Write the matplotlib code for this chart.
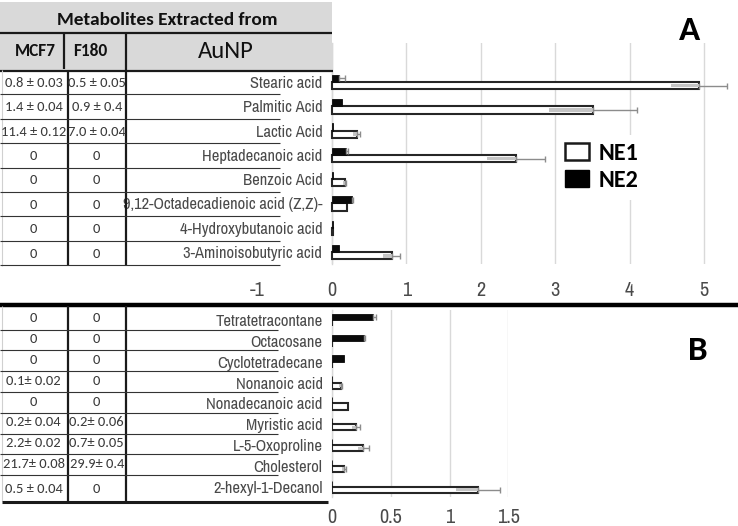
import os
import matplotlib
matplotlib.use('Agg')
import matplotlib.pyplot as plt
import numpy as np
from matplotlib import font_manager as fm
from matplotlib.patches import Rectangle, Patch
from matplotlib.lines import Line2D

plt.rcParams['axes.unicode_minus'] = False

# ---------------- data ----------------
catsA = ["Stearic acid", "Palmitic Acid", "Lactic Acid", "Heptadecanoic acid",
         "Benzoic Acid", "9,12-Octadecadienoic acid (Z,Z)-",
         "4-Hydroxybutanoic acid", "3-Aminoisobutyric acid"]
ne1A = [4.93, 3.51, 0.33, 2.47, 0.17, 0.20, 0.01, 0.80]
ne1A_err = [0.38, 0.59, 0.05, 0.39, 0.02, 0.0, 0.0, 0.12]
ne2A = [0.10, 0.13, 0.01, 0.19, 0.01, 0.27, 0.01, 0.10]
ne2A_err = [0.08, 0.0, 0.0, 0.03, 0.0, 0.01, 0.0, 0.0]
mcf7A = ["0.8 ± 0.03", "1.4 ± 0.04", "11.4 ± 0.12", "0", "0", "0", "0", "0"]
f180A = ["0.5 ± 0.05", "0.9 ± 0.4", "7.0 ± 0.04", "0", "0", "0", "0", "0"]
ticksA = [-1, 0, 1, 2, 3, 4, 5]
tickA_labels = ["-1", "0", "1", "2", "3", "4", "5"]

catsB = ["Tetratetracontane", "Octacosane", "Cyclotetradecane", "Nonanoic acid",
         "Nonadecanoic acid", "Myristic acid", "L-5-Oxoproline", "Cholesterol",
         "2-hexyl-1-Decanol"]
ne1B = [0, 0, 0, 0.07, 0.135, 0.20, 0.265, 0.10, 1.24]
ne1B_err = [0, 0, 0, 0.01, 0.0, 0.035, 0.045, 0.015, 0.19]
ne2B = [0.345, 0.27, 0.10, 0, 0, 0, 0, 0, 0]
ne2B_err = [0.03, 0.005, 0, 0, 0, 0, 0, 0, 0]
mcf7B = ["0", "0", "0", "0.1± 0.02", "0", "0.2± 0.04", "2.2± 0.02", "21.7± 0.08", "0.5 ± 0.04"]
f180B = ["0", "0", "0", "0", "0", "0.2± 0.06", "0.7± 0.05", "29.9± 0.4", "0"]
ticksB = [0, 0.5, 1, 1.5]
tickB_labels = ["0", "0.5", "1", "1.5"]

series_names = ["NE1", "NE2"]
header_title = "Metabolites Extracted from"
header_cols = ["MCF7", "F180", "AuNP"]

# ---------------- fonts ----------------
_files = {os.path.basename(f.fname): f.fname for f in fm.fontManager.ttflist}
_names = {f.name for f in fm.fontManager.ttflist}


def pick_font(filenames, names, weight='normal'):
    for fn in filenames:
        if fn in _files:
            return fm.FontProperties(fname=_files[fn])
    for n in names:
        if n in _names:
            return fm.FontProperties(family=n, weight=weight)
    return fm.FontProperties(family='DejaVu Sans', weight=weight)


FP_NARROW = pick_font(['LiberationSansNarrow-Regular.ttf', 'ArialNarrow.ttf', 'arialn.ttf'],
                      ['Liberation Sans Narrow', 'Arial Narrow', 'Archivo Narrow', 'PT Sans Narrow',
                       'Roboto Condensed', 'Open Sans Condensed', 'IBM Plex Sans Condensed',
                       'Fira Sans Condensed', 'Liberation Sans'])
FP_CAL = pick_font(['Carlito-Regular.ttf'], ['Carlito', 'Lato'])
FP_CAL_B = pick_font(['Carlito-Bold.ttf'], ['Carlito', 'Lato'], weight='bold')

# ---------------- layout helpers ----------------
W, H = 738, 526
fig = plt.figure(figsize=(W / 100, H / 100), dpi=100)
fig.patch.set_facecolor('white')
_renderer = fig.canvas.get_renderer()


def fx(x):
    return x / W


def fy(y):
    return 1 - y / H


def sized(fp, size):
    p = fp.copy()
    p.set_size(size)
    return p


def fit(fp, text, target_px):
    t = fig.text(0, 0, text, fontproperties=sized(fp, 10))
    w = t.get_window_extent(renderer=_renderer).width
    t.remove()
    return sized(fp, 10 * target_px / w)


GRAY_TXT = '#4a4a4a'
VAL_TXT = '#3a3a3a'

fp_cat = fit(FP_NARROW, "9,12-Octadecadienoic acid (Z,Z)-", 200)
fp_tick = sized(FP_NARROW, fp_cat.get_size() * 1.22)
fp_val = fit(FP_CAL, "0.8 ± 0.03", 58)
fp_title = fit(FP_CAL_B, header_title, 221)
fp_col = fit(FP_CAL_B, header_cols[0], 41)
fp_aunp = fit(FP_CAL, header_cols[2], 56)
fp_leg = fit(FP_CAL_B, series_names[0], 40)
fp_letter = sized(FP_CAL_B, fp_leg.get_size() * 1.45)


def hline(x0, x1, y, lw, color='#1a1a1a'):
    fig.add_artist(Line2D([fx(x0), fx(x1)], [fy(y), fy(y)], transform=fig.transFigure,
                          lw=lw, color=color, solid_capstyle='butt'))


def vline(x, y0, y1, lw, color='#1a1a1a'):
    fig.add_artist(Line2D([fx(x), fx(x)], [fy(y0), fy(y1)], transform=fig.transFigure,
                          lw=lw, color=color, solid_capstyle='butt'))


def ftext(x, y, s, **kw):
    fig.text(fx(x), fy(y), s, ha='center', va='center', **kw)


def draw_bars(ax, ne1, e1, ne2, e2, h):
    n = len(ne1)
    y = np.arange(n)
    v1 = np.array(ne1, float); e1 = np.array(e1, float)
    v2 = np.array(ne2, float); e2 = np.array(e2, float)
    y1 = y + h / 2
    y2 = y - h / 2
    # NE1: white bars with dark outline
    ax.barh(y1, v1, height=h, color='white', edgecolor='#262626', linewidth=1.5, zorder=3)
    m = e1 > 0
    ax.barh(y1[m], e1[m], left=v1[m] - e1[m], height=h * 0.5, color='#c4c4c4',
            linewidth=0, zorder=4)
    ax.errorbar(v1[m], y1[m], xerr=[np.zeros(m.sum()), e1[m]], fmt='none',
                ecolor='#8c8c8c', elinewidth=1, capsize=2.5, capthick=1, zorder=4)
    # NE2: black bars
    ax.barh(y2, v2, height=h, color='#0a0a0a', edgecolor='#0a0a0a', linewidth=0.6, zorder=3)
    m2 = e2 > 0
    ax.errorbar(v2[m2], y2[m2], xerr=[np.zeros(m2.sum()), e2[m2]], fmt='none',
                ecolor='#8c8c8c', elinewidth=1, capsize=2.5, capthick=1, zorder=4)


def style_axis(ax, cats, ticks, ticklabels, pad_x):
    ax.set_facecolor('none')
    for s in ['top', 'right', 'bottom']:
        ax.spines[s].set_visible(False)
    # spine position first (it resets ticks), then the tick labels
    ax.spines['left'].set_position(('data', 0))
    ax.spines['left'].set_color('#d9d9d9')
    ax.spines['left'].set_linewidth(1)
    ax.set_yticks(np.arange(len(cats)))
    ax.set_yticklabels(cats, fontproperties=fp_cat, color=GRAY_TXT)
    ax.set_xticks(ticks)
    ax.set_xticklabels(ticklabels, fontproperties=fp_tick, color=GRAY_TXT)
    ax.tick_params(axis='both', length=0)
    ax.tick_params(axis='y', pad=7)
    ax.tick_params(axis='x', pad=pad_x)
    ax.xaxis.grid(True, color='#d9d9d9', lw=1)
    ax.set_axisbelow(True)


# ---------------- Panel A ----------------
axA = fig.add_axes([fx(257.6), fy(264), (733.8 - 257.6) / W, (264 - 43) / H])
draw_bars(axA, ne1A, ne1A_err, ne2A, ne2A_err, 0.3)
axA.set_xlim(-1, 5.4)
axA.set_ylim(7.49, -1.605)
style_axis(axA, catsA, ticksA, tickA_labels, 12.5)
axA.get_xgridlines()[0].set_visible(False)

handles = [Patch(facecolor='white', edgecolor='#1a1a1a', linewidth=1.8, label=series_names[0]),
           Patch(facecolor='black', edgecolor='black', label=series_names[1])]
leg = axA.legend(handles=handles, loc='upper left', bbox_to_anchor=(fx(557), fy(134.5)),
                 bbox_transform=fig.transFigure, frameon=True, framealpha=1,
                 edgecolor='none', facecolor='white', fancybox=False,
                 prop=fp_leg,
                 handlelength=0.96, handleheight=0.72, handletextpad=0.4,
                 labelspacing=0.25, borderpad=0.35, borderaxespad=0)
leg.set_zorder(10)

# ---------------- Panel B ----------------
axB = fig.add_axes([fx(332.3), fy(497.2), (508.3 - 332.3) / W, (497.2 - 309.6) / H])
draw_bars(axB, ne1B, ne1B_err, ne2B, ne2B_err, 0.3)
axB.set_xlim(0, 1.5)
axB.set_ylim(8.5, -0.5)
style_axis(axB, catsB, ticksB, tickB_labels, 8)

# ---------------- Table (panel A) ----------------
fig.add_artist(Rectangle((0, fy(70)), fx(332), fy(2) - fy(70), transform=fig.transFigure,
                         facecolor='#d9d9d9', edgecolor='none', zorder=1))
hline(0, 332, 33, 1.6)
hline(0, 333, 70.5, 1.6)
vline(64, 33, 69, 1.6)
vline(67.5, 70, 266, 1.6)
vline(126, 33, 266, 1.6)
vline(1.5, 70, 266, 0.8, '#d0d0d0')
ftext(167, 20, header_title, fontproperties=fp_title, color='#111111')
ftext(35, 51, header_cols[0], fontproperties=fp_col, color='#111111')
ftext(90, 51, header_cols[1], fontproperties=fp_col, color='#111111')
ftext(226, 52, header_cols[2], fontproperties=fp_aunp, color='#111111')

rowA0, rowA_step = 82.2, 24.4
for i in range(len(catsA)):
    yc = rowA0 + rowA_step * i
    hline(0, 280, yc + rowA_step / 2, 0.8, '#333333')
    ftext(33.7, yc + 0.5, mcf7A[i], fontproperties=fp_val, color=VAL_TXT)
    ftext(96.8, yc + 0.5, f180A[i], fontproperties=fp_val, color=VAL_TXT)

# ---------------- Table (panel B) ----------------
hline(0, 738, 305, 3.2, '#000000')
vline(67.5, 306, 501.5, 1.6)
vline(126, 306, 501.5, 1.6)
vline(1.5, 306, 501, 0.8, '#d0d0d0')
hline(2, 328, 501.5, 2.2)
rowB0, rowB_step = 320, 20.8
for i in range(len(catsB)):
    yc = rowB0 + rowB_step * i
    if i < len(catsB) - 1:
        hline(0, 278, yc + rowB_step / 2 - 0.8, 0.8, '#333333')
        ty = yc - 1.5
    else:
        ty = yc + 3
    ftext(33.7, ty, mcf7B[i], fontproperties=fp_val, color=VAL_TXT)
    ftext(96.8, ty, f180B[i], fontproperties=fp_val, color=VAL_TXT)

# panel letters
ftext(690, 30, "A", fontproperties=fp_letter, color='#000000')
ftext(698, 350, "B", fontproperties=fp_letter, color='#000000')

fig.savefig('out.png', dpi=100, facecolor='white')
